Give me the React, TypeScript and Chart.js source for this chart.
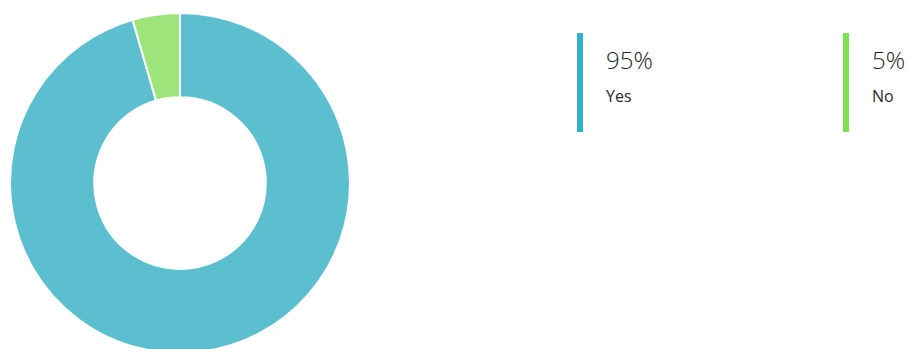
import React, { useEffect, useRef } from "react";
import { Chart, registerables } from "chart.js";

Chart.register(...registerables);

const categories = ["Yes", "No"];
const values = [95.5, 4.5];
const valueLabels = ["95%", "5%"];
const sliceColors = ["#5bbfd0", "#9de57a"];
const legendColors = ["#2fb1c9", "#7fdf4f"];

export default function App() {
  const ref = useRef<HTMLCanvasElement | null>(null);

  useEffect(() => {
    if (!ref.current) return;
    const chart = new Chart(ref.current, {
      type: "doughnut",
      data: {
        labels: categories,
        datasets: [
          {
            data: values,
            backgroundColor: sliceColors,
            borderColor: "#ffffff",
            borderWidth: 2,
            hoverOffset: 0,
          },
        ],
      },
      options: {
        responsive: false,
        animation: false,
        cutout: "50.5%",
        layout: { padding: 0 },
        plugins: {
          legend: { display: false },
          tooltip: { enabled: false },
        },
      },
    });
    return () => chart.destroy();
  }, []);

  const legendLeft = [577, 843];

  return (
    <div
      style={{
        position: "fixed",
        left: 0,
        top: 0,
        width: 908,
        height: 349,
        overflow: "hidden",
        background: "#ffffff",
        fontFamily: "'Open Sans', 'Segoe UI', sans-serif",
      }}
    >
      <canvas
        ref={ref}
        width={342}
        height={342}
        style={{ position: "absolute", left: 9, top: 12, width: 342, height: 342 }}
      />
      {categories.map((c, i) => (
        <div
          key={c}
          style={{ position: "absolute", left: legendLeft[i], top: 33, height: 99 }}
        >
          <div
            style={{
              position: "absolute",
              left: 0,
              top: 0,
              width: 6,
              height: 99,
              background: legendColors[i],
            }}
          />
          <div
            style={{
              position: "absolute",
              left: 29,
              top: 11,
              fontSize: 24,
              fontWeight: 300,
              color: "#1e1e1e",
              whiteSpace: "nowrap",
              lineHeight: "32px",
            }}
          >
            {valueLabels[i]}
          </div>
          <div
            style={{
              position: "absolute",
              left: 29,
              top: 53,
              fontSize: 16,
              color: "#2a2a2a",
              whiteSpace: "nowrap",
              lineHeight: "20px",
            }}
          >
            {c}
          </div>
        </div>
      ))}
    </div>
  );
}
